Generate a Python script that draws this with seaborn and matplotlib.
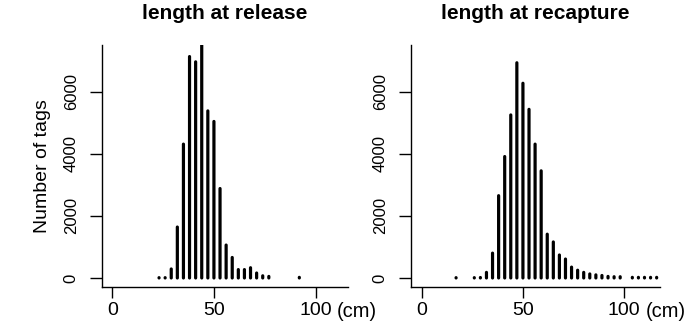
import matplotlib
matplotlib.use("Agg")
import matplotlib.pyplot as plt
import seaborn as sns
import pandas as pd

# length bins (cm) and counts
release_len = [23, 26, 29, 32, 35, 38, 41, 44, 47, 50, 53, 56, 59, 62, 65, 68, 71, 74, 77, 92]
release_n = [10, 10, 290, 1640, 4310, 7130, 6960, 7500, 5380, 5040, 2880, 1060, 660, 270, 270, 330, 160, 70, 50, 20]

recap_len = [17, 26, 29, 32, 35, 38, 41, 44, 47, 50, 53, 56, 59, 62, 65, 68, 71, 74, 77,
             80, 83, 86, 89, 92, 95, 98, 104, 107, 110, 113, 116]
recap_n = [10, 10, 15, 180, 800, 2650, 3910, 5250, 6930, 6270, 5430, 4310, 3450, 1410, 1160,
           740, 610, 350, 250, 180, 130, 100, 80, 50, 40, 40, 20, 20, 20, 20, 20]

titles = ["length at release", "length at recapture"]
y_ticks = [0, 2000, 4000, 6000]
x_ticks = [0, 50, 100]
y_label = "Number of tags"
unit_label = "(cm)"

sns.set_theme(style="ticks")
plt.rcParams['font.family'] = ['Liberation Sans', 'DejaVu Sans']
plt.rcParams['path.simplify'] = False
for k in ["text.color", "axes.labelcolor", "xtick.color", "ytick.color", "axes.edgecolor"]:
    plt.rcParams[k] = "black"

fig = plt.figure(figsize=(7.0, 3.21), dpi=100)
ax1 = fig.add_axes([0.1453, 0.106, 0.352, 0.754])
ax2 = fig.add_axes([0.5867, 0.106, 0.356, 0.754])

dfs = [pd.DataFrame({"len": release_len, "n": release_n}),
       pd.DataFrame({"len": recap_len, "n": recap_n})]
xlims = [(-5.2, 116.0), (-5.4, 117.6)]

for i, (ax, df, title, xl) in enumerate(zip([ax1, ax2], dfs, titles, xlims)):
    for xv, yv in zip(df["len"], df["n"]):
        ax.plot([xv, xv], [0, yv], color="black", linewidth=2.3,
                solid_capstyle="round", snap=False)
    ax.set_xlim(*xl)
    ax.set_ylim(-290, 7504)
    ax.set_xticks(x_ticks)
    ax.set_yticks(y_ticks)
    ax.set_xticklabels([str(v) for v in x_ticks], fontsize=14)
    ax.set_yticklabels([str(v) for v in y_ticks], fontsize=12, rotation=90, va="center")
    ax.tick_params(axis="x", length=8, width=1, pad=2.5, color="black")
    ax.tick_params(axis="y", length=8.5, width=1, pad=8, color="black")
    for s in ["top", "right"]:
        ax.spines[s].set_visible(False)
    for s in ["left", "bottom"]:
        ax.spines[s].set_linewidth(1.0)
        ax.spines[s].set_color("black")
    ax.set_title(title, fontsize=15, fontweight="bold", pad=19)
    ax.annotate(unit_label, xy=(120.3, 0), xycoords=("data", "axes fraction"),
                xytext=(0, -21.3), textcoords="offset points",
                ha="center", va="baseline", fontsize=14.5, annotation_clip=False)

ax1.set_ylabel(y_label, fontsize=14, labelpad=9)

fig.savefig("out.png", dpi=100, facecolor="white")
